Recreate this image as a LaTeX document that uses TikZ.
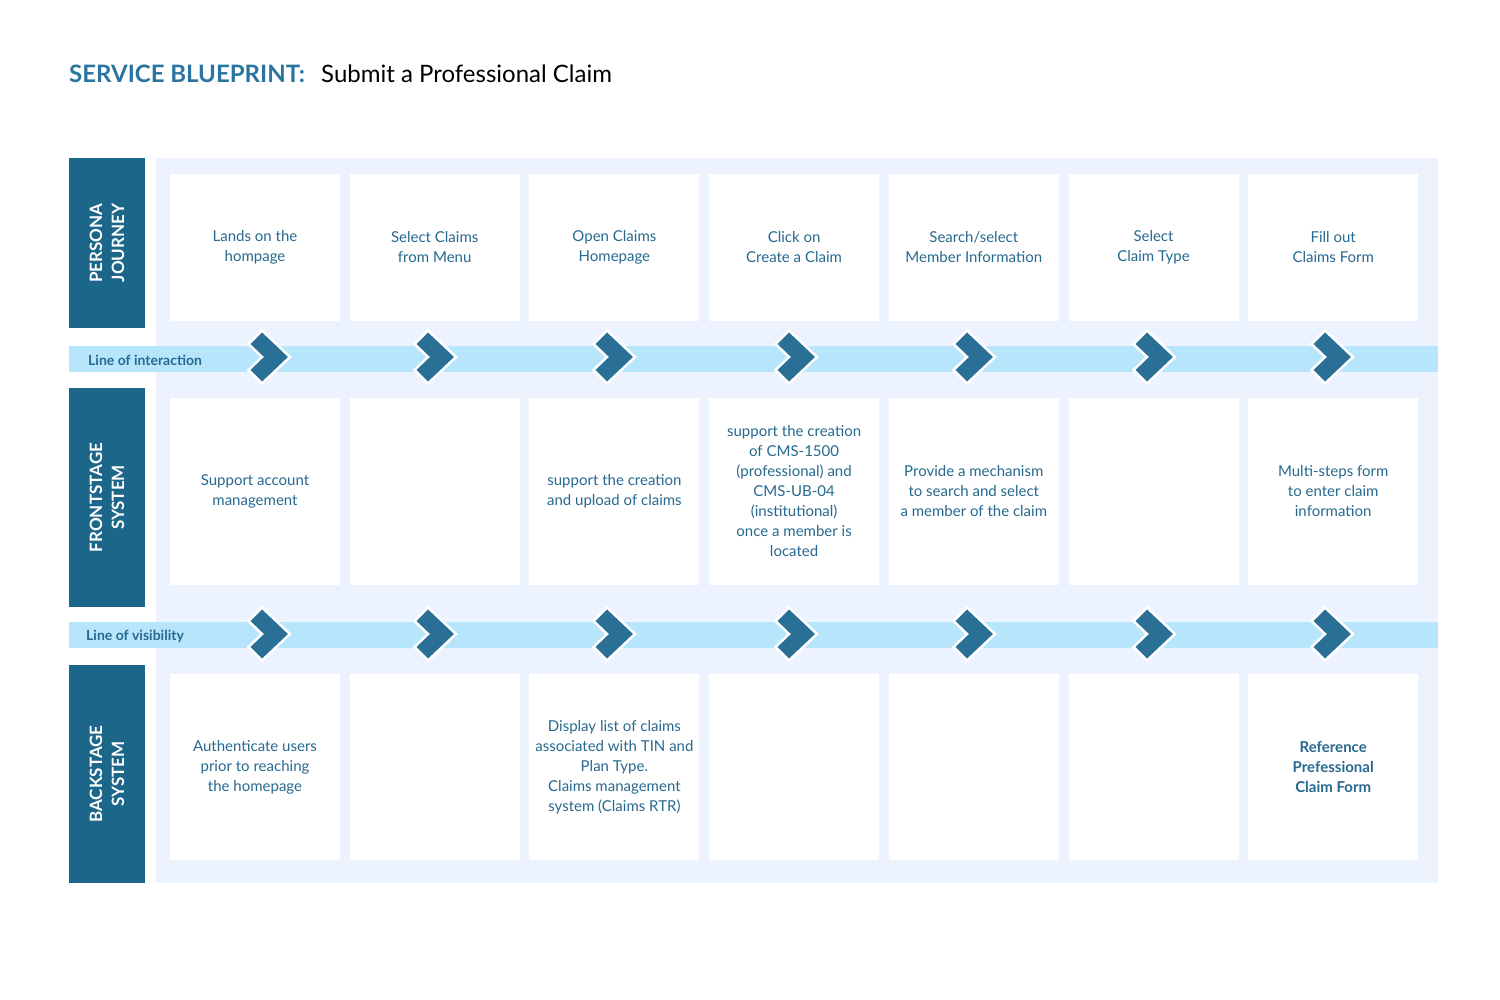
\documentclass[tikz,border=0pt]{standalone}
\usepackage{fontspec}
\setmainfont{Lato}
\usepackage{tikz}
\usetikzlibrary{positioning}
\definecolor{sb-dark}{HTML}{1C6689}
\definecolor{sb-title}{HTML}{2B74A0}
\definecolor{sb-text}{HTML}{27698F}
\definecolor{sb-chev}{HTML}{2A7096}
\definecolor{sb-band}{HTML}{B6E5FC}
\definecolor{sb-panel}{HTML}{ECF3FE}

\begin{document}
\begin{tikzpicture}[x=1pt, y=-1pt,
    card/.style={fill=white, minimum width=170pt, align=center, inner sep=0pt,
      text=sb-text, font=\fontsize{15}{20}\selectfont},
    sidebox/.style={fill=sb-dark, rotate=90, minimum height=76pt, align=center,
      text=white, font=\fontsize{17}{22}\selectfont\bfseries},
    bandlabel/.style={anchor=west, inner sep=0pt, text=sb-text,
      font=\fontsize{14}{16}\selectfont\bfseries},
    chevron/.style={fill=sb-chev, draw=white, line width=2.5pt, line join=miter}]
    \useasboundingbox (0,0) rectangle (1500,1000);
    % title
    \node[anchor=base west, inner sep=0pt, text=sb-title, font=\fontsize{24}{28}\selectfont\bfseries] (ttl) at (69,83) {SERVICE BLUEPRINT:};
    \node[anchor=base west, inner sep=0pt, font=\fontsize{24}{28}\selectfont] (sub) at (321,83) {Submit a Professional Claim};
    % lanes
    \fill[sb-panel] (156,158) rectangle (1438,883);
    \node[sidebox, minimum width=170pt] (persona) at (107,243) {PERSONA\\JOURNEY};
    \node[sidebox, minimum width=219pt] (front) at (107,497.5) {FRONTSTAGE\\SYSTEM};
    \node[sidebox, minimum width=218pt] (back) at (107,774) {BACKSTAGE\\SYSTEM};
    \fill[sb-band] (69,346) rectangle (1438,372);
    \fill[sb-band] (69,622) rectangle (1438,648);
    \node[bandlabel] (interaction) at (88,360) {Line of interaction};
    \node[bandlabel] (visibility) at (86,636) {Line of visibility};
    % persona journey
    \node[card, minimum height=147pt] (pj1) at (255,247.5) {Lands on the\\hompage};
    \node[card, minimum height=147pt] (pj2) at (434.7,247.5) {Select Claims\\from Menu};
    \node[card, minimum height=147pt] (pj3) at (614.4,247.5) {Open Claims\\Homepage};
    \node[card, minimum height=147pt] (pj4) at (794.1,247.5) {Click on\\Create a Claim};
    \node[card, minimum height=147pt] (pj5) at (973.8,247.5) {Search/select\\Member Information};
    \node[card, minimum height=147pt] (pj6) at (1153.5,247.5) {Select\\Claim Type};
    \node[card, minimum height=147pt] (pj7) at (1333.2,247.5) {Fill out\\Claims Form};
    % frontstage
    \node[card, minimum height=187pt] (fs1) at (255,491.5) {Support account\\management};
    \node[card, minimum height=187pt] (fs2) at (434.7,491.5) {};
    \node[card, minimum height=187pt] (fs3) at (614.4,491.5) {support the creation\\and upload of claims};
    \node[card, minimum height=187pt] (fs4) at (794.1,491.5) {support the creation\\of CMS-1500\\(professional) and\\CMS-UB-04\\(institutional)\\once a member is\\located};
    \node[card, minimum height=187pt] (fs5) at (973.8,491.5) {Provide a mechanism\\to search and select\\a member of the claim};
    \node[card, minimum height=187pt] (fs6) at (1153.5,491.5) {};
    \node[card, minimum height=187pt] (fs7) at (1333.2,491.5) {Multi-steps form\\to enter claim\\information};
    % backstage
    \node[card, minimum height=186pt] (bs1) at (255,767) {Authenticate users\\prior to reaching\\the homepage};
    \node[card, minimum height=186pt] (bs2) at (434.7,767) {};
    \node[card, minimum height=186pt] (bs3) at (614.4,767) {Display list of claims\\associated with TIN and\\Plan Type.\\Claims management\\system (Claims RTR)};
    \node[card, minimum height=186pt] (bs4) at (794.1,767) {};
    \node[card, minimum height=186pt] (bs5) at (973.8,767) {};
    \node[card, minimum height=186pt] (bs6) at (1153.5,767) {};
    \node[card, minimum height=186pt, font=\fontsize{15}{20}\selectfont\bfseries] (bs7) at (1333.2,767) {Reference\\Prefessional\\Claim Form};
    % chevrons
    \foreach \cx in {262,428,607,789,967,1147,1325}
      \foreach \cy in {357,634}
        \draw[chevron] (\cx,\cy) -- ++(-13.5,-13) -- ++(13.5,-13.5) -- ++(28,26.5)
          -- ++(-28,26.5) -- ++(-13.5,-13.5) -- cycle;
\end{tikzpicture}
\end{document}
